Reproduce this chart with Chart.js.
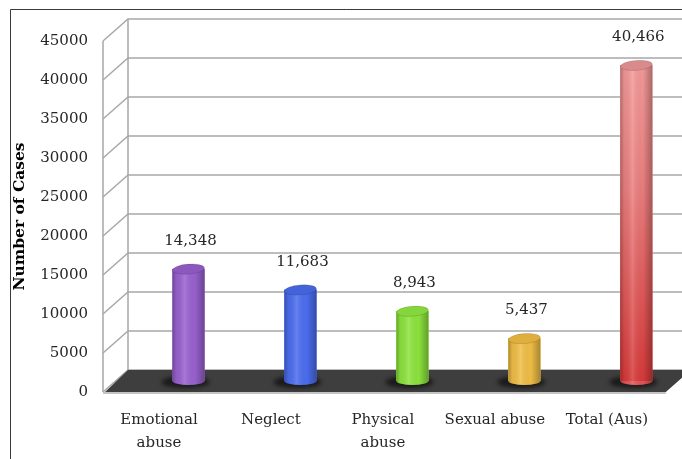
<!DOCTYPE html>
<html>
<head>
<meta charset="utf-8">
<script src="https://cdn.jsdelivr.net/npm/chart.js@4.4.1/dist/chart.umd.min.js"></script>
<style>
  html, body { margin: 0; padding: 0; background: #fff; }
  canvas { display: block; }
</style>
</head>
<body>
<canvas id="casesChart" width="682" height="459"></canvas>
<script>
// data
const categories = [['Emotional', 'abuse'], 'Neglect', ['Physical', 'abuse'], 'Sexual abuse', 'Total (Aus)'];
const cases = [14348, 11683, 8943, 5437, 40466];
const yMin = 0;
const yMax = 45000;
const yStep = 5000;

const FONT = "'DejaVu Serif', 'Liberation Serif', serif";
const DEPTH_X = 25;
const DEPTH_Y = -22;

const barColors = ['#9a62d0', '#4c6ef0', '#8de43e', '#f1bf47', '#e35656'];
const topColors = ['#8c58be', '#4462da', '#84d63a', '#e0ae3c', '#d98a8a'];

const fmt = v => v.toLocaleString('en-US');

const frame3d = {
    id: 'frame3d',
    beforeDraw(chart) {
        const { ctx, chartArea } = chart;
        const y = chart.scales.y;
        const frontLeft = chartArea.left - 17;
        const backLeft = frontLeft + DEPTH_X;

        ctx.save();
        // outer frame
        ctx.strokeStyle = '#3a3a3a';
        ctx.lineWidth = 1;
        ctx.beginPath();
        ctx.moveTo(10.5, chart.height);
        ctx.lineTo(10.5, 9.5);
        ctx.lineTo(chart.width, 9.5);
        ctx.stroke();

        // back wall gridlines + side diagonals
        ctx.strokeStyle = '#a8a8a8';
        ctx.lineWidth = 1.5;
        for (let v = yMin; v <= yMax; v += yStep) {
            const py = y.getPixelForValue(v);
            ctx.beginPath();
            ctx.moveTo(frontLeft, py);
            ctx.lineTo(backLeft, py + DEPTH_Y);
            ctx.lineTo(chart.width, py + DEPTH_Y);
            ctx.stroke();
        }
        const top = y.getPixelForValue(yMax);
        const zero = y.getPixelForValue(0);
        ctx.beginPath();
        ctx.moveTo(frontLeft, top);
        ctx.lineTo(frontLeft, zero);
        ctx.moveTo(backLeft, top + DEPTH_Y);
        ctx.lineTo(backLeft, zero + DEPTH_Y);
        ctx.stroke();

        // floor
        const frontRight = chartArea.right - 14;
        ctx.fillStyle = '#3e3e3e';
        ctx.beginPath();
        ctx.moveTo(frontLeft + 2, zero);
        ctx.lineTo(frontRight, zero);
        ctx.lineTo(frontRight + DEPTH_X, zero + DEPTH_Y);
        ctx.lineTo(backLeft, zero + DEPTH_Y);
        ctx.closePath();
        ctx.fill();
        ctx.strokeStyle = '#b0b0b0';
        ctx.lineWidth = 1.5;
        ctx.beginPath();
        ctx.moveTo(frontLeft, zero + 1);
        ctx.lineTo(frontRight, zero + 1);
        ctx.stroke();
        ctx.restore();
    },
    beforeDatasetsDraw(chart) {
        const { ctx } = chart;
        ctx.save();
        ctx.translate(DEPTH_X / 2, DEPTH_Y / 2);
        const bars = chart.getDatasetMeta(0).data;
        bars.forEach((bar, i) => {
            const r = bar.width / 2;
            // shadow on floor
            ctx.save();
            ctx.fillStyle = 'rgba(20,20,20,0.85)';
            ctx.filter = 'blur(2px)';
            ctx.beginPath();
            ctx.ellipse(bar.x - 3, bar.base + 1, r + 8, 6, 0, 0, Math.PI * 2);
            ctx.fill();
            ctx.restore();
            ctx.fillStyle = barColors[i];
            ctx.beginPath();
            ctx.ellipse(bar.x, bar.base, r, 4, 0, 0, Math.PI * 2);
            ctx.fill();
        });
    },
    afterDatasetsDraw(chart) {
        const { ctx } = chart;
        const bars = chart.getDatasetMeta(0).data;
        bars.forEach((bar, i) => {
            const r = bar.width / 2;
            const left = bar.x - r;
            // cylinder shading
            ctx.save();
            ctx.beginPath();
            ctx.rect(left, bar.y, bar.width, bar.base - bar.y);
            ctx.ellipse(bar.x, bar.base, r, 4, 0, 0, Math.PI * 2);
            ctx.clip();
            const g = ctx.createLinearGradient(left, 0, left + bar.width, 0);
            g.addColorStop(0, 'rgba(0,0,0,0.28)');
            g.addColorStop(0.12, 'rgba(0,0,0,0.06)');
            g.addColorStop(0.38, 'rgba(255,255,255,0.14)');
            g.addColorStop(0.7, 'rgba(0,0,0,0.02)');
            g.addColorStop(1, 'rgba(0,0,0,0.3)');
            ctx.fillStyle = g;
            ctx.fillRect(left - 1, bar.y - 6, bar.width + 2, bar.base - bar.y + 12);
            ctx.restore();
            // top cap
            ctx.fillStyle = topColors[i];
            ctx.strokeStyle = 'rgba(0,0,0,0.12)';
            ctx.lineWidth = 1;
            ctx.beginPath();
            ctx.ellipse(bar.x, bar.y, r, 5, -0.08, 0, Math.PI * 2);
            ctx.fill();
            ctx.stroke();
        });
        // value labels
        ctx.fillStyle = '#262626';
        ctx.font = `15px ${FONT}`;
        ctx.textAlign = 'center';
        ctx.textBaseline = 'middle';
        bars.forEach((bar, i) => {
            ctx.fillText(fmt(cases[i]), bar.x + 2, bar.y - 28);
        });
        ctx.restore();
    }
};

new Chart(document.getElementById('casesChart'), {
    type: 'bar',
    data: {
        labels: categories,
        datasets: [{
            label: 'Number of Cases',
            data: cases,
            barThickness: 32,
            borderWidth: 0,
            backgroundColor: (context) => {
                const i = context.dataIndex;
                const area = context.chart.chartArea;
                if (i === 4 && area) {
                    const g = context.chart.ctx.createLinearGradient(0, area.top, 0, area.bottom);
                    g.addColorStop(0, '#f7a2a2');
                    g.addColorStop(0.45, '#ec7f7f');
                    g.addColorStop(1, '#d83a3a');
                    return g;
                }
                return barColors[i];
            }
        }]
    },
    options: {
        responsive: false,
        animation: false,
        layout: { padding: { top: 41, left: 0, right: 0, bottom: 0 } },
        plugins: {
            legend: { display: false },
            tooltip: { enabled: false }
        },
        scales: {
            x: {
                type: 'category',
                offset: true,
                grid: { display: false, drawTicks: false },
                border: { display: false },
                ticks: {
                    color: '#262626',
                    font: { family: FONT, size: 15, lineHeight: 1.5 },
                    padding: 17,
                    labelOffset: -17,
                    maxRotation: 0,
                    autoSkip: false
                },
                afterFit: (scale) => { scale.height = 67; }
            },
            y: {
                min: yMin,
                max: yMax,
                grid: { display: false, drawTicks: false },
                border: { display: false },
                ticks: {
                    stepSize: yStep,
                    color: '#262626',
                    font: { family: FONT, size: 15 },
                    padding: 32,
                    callback: (v) => String(v)
                },
                title: {
                    display: true,
                    text: 'Number of Cases',
                    color: '#000',
                    font: { family: FONT, size: 15.5, weight: 'bold' },
                    padding: { top: 11, bottom: 0 }
                },
                afterFit: (scale) => { scale.width = 120; }
            }
        }
    },
    plugins: [frame3d]
});
</script>
</body>
</html>
